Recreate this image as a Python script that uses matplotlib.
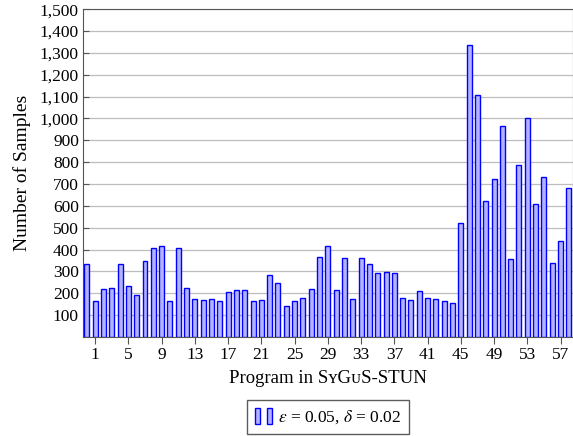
import numpy as np
import matplotlib
matplotlib.use("Agg")
import matplotlib.pyplot as plt
from matplotlib.patches import Patch
from matplotlib.legend_handler import HandlerTuple
from matplotlib.ticker import FuncFormatter

# samples per program
programs = list(range(0, 59))
samples = [335, 164, 218, 226, 335, 233, 194, 347, 408, 415,
           164, 409, 224, 174, 168, 173, 164, 208, 214, 214,
           165, 170, 286, 245, 142, 165, 177, 218, 364, 418,
           214, 361, 174, 361, 336, 291, 297, 291, 177, 168,
           212, 177, 174, 165, 157, 521, 1335, 1106, 623, 724,
           966, 355, 788, 1003, 609, 734, 337, 440, 682]
xticks = list(range(1, 58, 4))
yticks = list(range(100, 1501, 100))
legend_label = r"$\epsilon$ = 0.05, $\delta$ = 0.02"

plt.rcParams["font.family"] = ["Liberation Serif", "DejaVu Serif"]
plt.rcParams["mathtext.fontset"] = "stix"

fig = plt.figure(figsize=(5.73, 4.36), dpi=100)
ax = fig.add_axes([0.145, 0.227, 0.855, 0.752])

fill = "#b3b3ff"
edge = "#0000ff"
ax.bar(programs, samples, width=0.6, color=fill, edgecolor=edge, linewidth=1.0, zorder=3)

ax.set_xlim(-0.45, 58.5)
ax.set_ylim(0, 1500)
ax.set_xticks(xticks)
ax.set_yticks(yticks)
ax.yaxis.set_major_formatter(FuncFormatter(lambda v, p: f"{int(v):,}"))
ax.tick_params(axis="x", direction="out", length=5, pad=2, color="#555555", labelsize=12.5)
ax.tick_params(axis="y", direction="in", length=4, pad=3, color="#555555", labelsize=12.5)
ax.grid(axis="y", color="#bdbdbd", linewidth=0.9, zorder=0)
for side in ["left", "bottom", "top", "right"]:
    ax.spines[side].set_color("#555555")

ax.set_ylabel("Number of Samples", fontsize=14, labelpad=6)
ax.set_xlabel("Program in S\u028fG\u1d1cS-STUN", fontsize=13.5, labelpad=5)

handle = (Patch(facecolor=fill, edgecolor=edge), Patch(facecolor=fill, edgecolor=edge))
leg = fig.legend([handle], [legend_label], handler_map={tuple: HandlerTuple(ndivide=None, pad=0.4)},
                 loc="center", bbox_to_anchor=(328 / 573, 1 - 417 / 436), fontsize=12.5,
                 frameon=True, fancybox=False, edgecolor="#333333",
                 handlelength=1.0, handleheight=1.1, handletextpad=0.3, borderpad=0.45)
leg.get_frame().set_linewidth(1.0)

fig.savefig("out.png", dpi=100)
